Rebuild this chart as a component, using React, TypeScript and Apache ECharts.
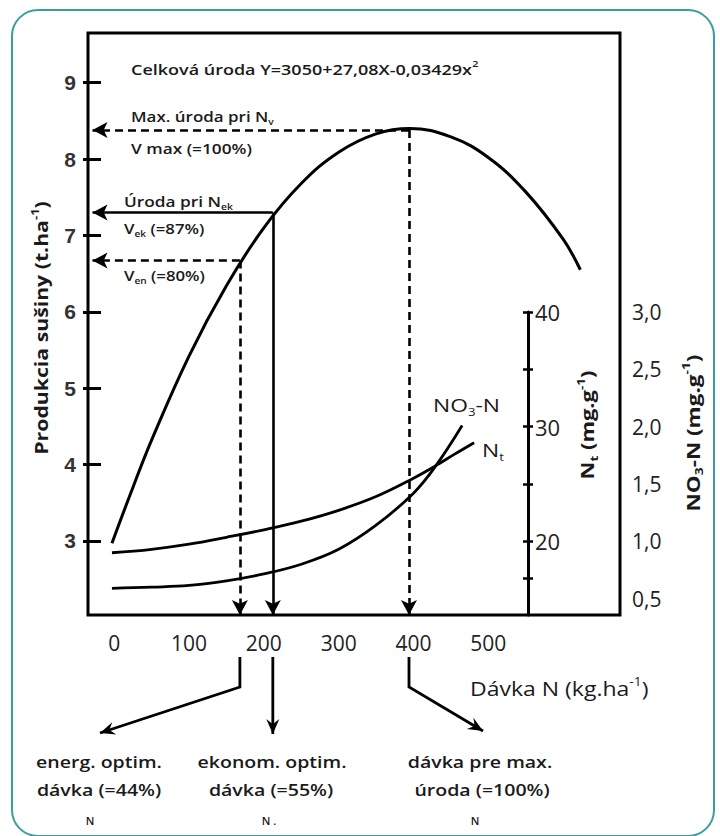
import React, { useEffect, useRef } from 'react';
import * as echarts from 'echarts';

// ---- Data ----
const doseTicks = [0, 100, 200, 300, 400, 500];
const yieldTicks = [3, 4, 5, 6, 7, 8, 9];
const ntTicks = [16.75, 20, 25, 30, 35, 40];
const ntLabels = [20, 30, 40];
const no3Labels = [0.5, 1.0, 1.5, 2.0, 2.5, 3.0];

// total yield (t/ha) vs N dose (kg/ha)
const yieldDose = [-3, 25, 50, 100, 150, 200, 250, 300, 350, 395, 450, 500, 550, 600, 623];
const yieldValues = [2.97, 3.7, 4.32, 5.42, 6.34, 7.1, 7.68, 8.09, 8.33, 8.4, 8.29, 8.02, 7.57, 6.95, 6.55];

// total N in dry matter (mg/g)
const ntDose = [-3, 50, 100, 150, 200, 250, 300, 350, 400, 430, 455, 481];
const ntValues = [19.0, 19.3, 19.75, 20.35, 21.0, 21.75, 22.7, 23.9, 25.5, 26.6, 27.6, 28.6];

// NO3-N (mg/g)
const no3Dose = [-3, 50, 100, 150, 200, 250, 300, 350, 400, 430, 465];
const no3Values = [0.59, 0.6, 0.615, 0.655, 0.715, 0.8, 0.93, 1.14, 1.42, 1.66, 2.01];

// optimum doses: energetic, economic, maximum yield
const optimumDoses = [168, 212, 394];
const optimumYields = [6.67, 7.3, 8.38];
const optimumDashed = [true, false, true];

// ---- Layout constants ----
const X_MIN = -35, X_MAX = 676;
const Y_MIN = 2.03, Y_MAX = 9.65;
const NT_MIN = 13.57, NT_MAX = 40;
const NO3_MIN = 0.357, NO3_MAX = 3.0;
const ARROW_X = -29;

const FONT = '"Open Sans", "Liberation Sans", sans-serif';
const NUMFONT = '"Liberation Sans", Arial, sans-serif';
const INK = '#1a1a1a';

function arrowHead(tip: number[], from: number[], len = 15, half = 6.5) {
  const dx = tip[0] - from[0], dy = tip[1] - from[1];
  const d = Math.hypot(dx, dy);
  const ux = dx / d, uy = dy / d;
  const px = -uy, py = ux;
  const bx = tip[0] - ux * len, by = tip[1] - uy * len;
  const nx = tip[0] - ux * len * 0.65, ny = tip[1] - uy * len * 0.65;
  return [
    [tip[0], tip[1]],
    [bx + px * half, by + py * half],
    [nx, ny],
    [bx - px * half, by - py * half],
  ];
}

function richSet(size: number, weight: any = 600) {
  return {
    a: { fontSize: size, fontFamily: FONT, fontWeight: weight, fill: INK, color: INK, lineHeight: size + 6 },
    sub: { fontSize: Math.round(size * 0.6), fontFamily: FONT, fontWeight: weight, fill: INK, color: INK, verticalAlign: 'bottom', lineHeight: size + 6 },
    sup: { fontSize: Math.round(size * 0.6), fontFamily: FONT, fontWeight: weight, fill: INK, color: INK, verticalAlign: 'top', lineHeight: size + 6 },
  };
}

function txt(x: number, y: number, text: string, size: number, opts: any = {}) {
  const weight = opts.weight ?? 600;
  return {
    type: 'text',
    x,
    y,
    z: 20,
    silent: true,
    rotation: opts.rotation || 0,
    scaleX: opts.scaleX || 1,
    style: {
      text,
      fontSize: size,
      fontFamily: FONT,
      fontWeight: weight,
      fill: INK,
      align: opts.align || 'left',
      verticalAlign: 'middle',
      rich: richSet(size, weight),
    },
  };
}

export default function App() {
  const ref = useRef<HTMLDivElement>(null);

  useEffect(() => {
    const chart = echarts.init(ref.current!, undefined, { renderer: 'svg' });

    const markData: any[] = [];
    optimumDoses.forEach((d, i) => {
      const ls = { type: optimumDashed[i] ? [8, 5] : 'solid', width: 2.6, color: '#000' };
      markData.push([{ coord: [d, optimumYields[i]], lineStyle: ls }, { coord: [d, Y_MIN] }]);
      markData.push([{ coord: [d, optimumYields[i]], lineStyle: ls }, { coord: [ARROW_X, optimumYields[i]] }]);
    });

    const option: any = {
      animation: false,
      backgroundColor: '#fff',
      grid: [
        { left: 88, top: 33, width: 532, height: 582, show: true, borderColor: '#000', borderWidth: 3, backgroundColor: 'transparent' },
        { left: 88, top: 312, width: 532, height: 303, show: false },
      ],
      xAxis: [
        {
          gridIndex: 0, type: 'value', min: X_MIN, max: X_MAX,
          axisLine: { show: false, onZero: false }, axisTick: { show: false }, splitLine: { show: false },
          axisLabel: { customValues: doseTicks, fontSize: 21, color: '#222', margin: 17, fontFamily: FONT },
        },
        { gridIndex: 1, type: 'value', min: X_MIN, max: X_MAX, show: false, axisLine: { onZero: false } },
      ],
      yAxis: [
        {
          gridIndex: 0, type: 'value', position: 'left', min: Y_MIN, max: Y_MAX,
          axisLine: { show: false, onZero: false },
          axisTick: { show: true, inside: true, length: 13, customValues: yieldTicks, lineStyle: { width: 3, color: '#000' } },
          axisLabel: { customValues: yieldTicks, fontSize: 21, fontWeight: 'bold', color: '#333', margin: 12, fontFamily: NUMFONT },
          splitLine: { show: false },
        },
        {
          gridIndex: 0, type: 'value', position: 'left', min: Y_MIN, max: Y_MAX,
          axisLine: { show: false, onZero: false },
          axisTick: { show: true, inside: false, length: 5, customValues: yieldTicks, lineStyle: { width: 3, color: '#000' } },
          axisLabel: { show: false }, splitLine: { show: false },
        },
        {
          gridIndex: 1, type: 'value', position: 'right', offset: -92, min: NT_MIN, max: NT_MAX,
          axisLine: { show: true, onZero: false, lineStyle: { width: 3, color: '#000' } },
          axisTick: { show: true, inside: false, length: 5, customValues: ntTicks, lineStyle: { width: 2.5, color: '#000' } },
          axisLabel: { customValues: ntLabels, fontSize: 22, color: '#222', margin: 7, fontFamily: FONT },
          splitLine: { show: false },
        },
        {
          gridIndex: 1, type: 'value', position: 'right', offset: -92, min: NT_MIN, max: NT_MAX,
          axisLine: { show: false, onZero: false },
          axisTick: { show: true, inside: true, length: 5, customValues: ntTicks, lineStyle: { width: 2.5, color: '#000' } },
          axisLabel: { show: false }, splitLine: { show: false },
        },
        {
          gridIndex: 1, type: 'value', position: 'right', offset: 0, min: NO3_MIN, max: NO3_MAX,
          axisLine: { show: false, onZero: false }, axisTick: { show: false }, splitLine: { show: false },
          axisLabel: {
            customValues: no3Labels, fontSize: 21, color: '#222', margin: 12, fontFamily: FONT,
            formatter: (v: number) => v.toFixed(1).replace('.', ','),
          },
        },
      ],
      series: [
        {
          name: 'Celková úroda', type: 'line', xAxisIndex: 0, yAxisIndex: 0,
          data: yieldDose.map((d, i) => [d, yieldValues[i]]),
          symbol: 'none', smooth: 0.4, clip: false,
          lineStyle: { color: '#000', width: 3 },
          markLine: {
            silent: true, symbol: ['none', 'arrow'], symbolSize: [12, 15],
            label: { show: false },
            lineStyle: { color: '#000', width: 2.6 },
            data: markData,
          },
        },
        {
          name: 'Nt', type: 'line', xAxisIndex: 1, yAxisIndex: 2,
          data: ntDose.map((d, i) => [d, ntValues[i]]),
          symbol: 'none', smooth: 0.4, clip: false,
          lineStyle: { color: '#000', width: 2.8 },
        },
        {
          name: 'NO3-N', type: 'line', xAxisIndex: 1, yAxisIndex: 4,
          data: no3Dose.map((d, i) => [d, no3Values[i]]),
          symbol: 'none', smooth: 0.4, clip: false,
          lineStyle: { color: '#000', width: 2.8 },
        },
      ],
    };

    chart.setOption(option);

    const px = optimumDoses.map((d) => chart.convertToPixel({ xAxisIndex: 0 }, d) as number);
    const top = 657;
    const bend = 687;
    const leftTip = [100, 733];
    const midTip = [px[1], 734];
    const rightTip = [483, 731];

    const lineStyle = { stroke: '#000', lineWidth: 2.8, fill: 'none' };
    const graphics: any[] = [
      {
        type: 'rect', z: 0, silent: true,
        shape: { x: 12, y: 10, width: 702, height: 826, r: 26 },
        style: { fill: 'none', stroke: '#3a9e9b', lineWidth: 2 },
      },
      // bottom arrows
      { type: 'polyline', z: 10, shape: { points: [[px[0], top], [px[0], bend], leftTip] }, style: lineStyle },
      { type: 'polygon', z: 10, shape: { points: arrowHead(leftTip, [px[0], bend]) }, style: { fill: '#000' } },
      { type: 'polyline', z: 10, shape: { points: [[px[1], top], midTip] }, style: lineStyle },
      { type: 'polygon', z: 10, shape: { points: arrowHead(midTip, [px[1], top]) }, style: { fill: '#000' } },
      { type: 'polyline', z: 10, shape: { points: [[px[2], top], [px[2], bend], rightTip] }, style: lineStyle },
      { type: 'polygon', z: 10, shape: { points: arrowHead(rightTip, [px[2], bend]) }, style: { fill: '#000' } },

      // y axis title
      txt(41, 328, '{a|Produkcia sušiny (t.ha}{sup|-1}{a|)}', 18, { rotation: Math.PI / 2, align: 'center', scaleX: 1.18, weight: 'bold' }),

      // annotations in plot
      txt(131, 69, '{a|Celková úroda Y=3050+27,08X-0,03429x}{sup|2}', 15, { scaleX: 1.2 }),
      txt(131, 116, '{a|Max. úroda pri N}{sub|v}', 15, { scaleX: 1.13 }),
      txt(131, 148, 'V max (=100%)', 15, { scaleX: 1.15 }),
      txt(124, 201, '{a|Úroda pri N}{sub|ek}', 15, { scaleX: 1.15 }),
      txt(124, 228, '{a|V}{sub|ek}{a| (=87%)}', 15, { scaleX: 1.12 }),
      txt(124, 275, '{a|V}{sub|en}{a| (=80%)}', 15, { scaleX: 1.12 }),

      // curve labels
      txt(433, 405, '{a|NO}{sub|3}{a|-N}', 19, { scaleX: 1.2, weight: 'normal' }),
      txt(482, 450, '{a|N}{sub|t}', 19, { scaleX: 1.2, weight: 'normal' }),

      // right axis titles
      txt(587, 425, '{a|N}{sub|t}{a| (mg.g}{sup|-1}{a|)}', 18, { rotation: Math.PI / 2, align: 'center', scaleX: 1.22, weight: 'bold' }),
      txt(693, 433, '{a|NO}{sub|3}{a|-N (mg.g}{sup|-1}{a|)}', 18, { rotation: Math.PI / 2, align: 'center', scaleX: 1.25, weight: 'bold' }),

      // x axis title
      txt(470, 688, '{a|Dávka N (kg.ha}{sup|-1}{a|)}', 20, { scaleX: 1.15, weight: 'normal' }),

      // bottom labels
      txt(99, 761, 'energ. optim.', 17, { align: 'center', scaleX: 1.15 }),
      txt(99, 789, 'dávka (=44%)', 17, { align: 'center', scaleX: 1.15 }),
      txt(90, 820, 'N', 11, { align: 'center' }),
      txt(272, 761, 'ekonom. optim.', 17, { align: 'center', scaleX: 1.15 }),
      txt(271, 789, 'dávka (=55%)', 17, { align: 'center', scaleX: 1.15 }),
      txt(269, 820, 'N .', 11, { align: 'center' }),
      txt(480, 761, 'dávka pre max.', 17, { align: 'center', scaleX: 1.15 }),
      txt(482, 789, 'úroda (=100%)', 17, { align: 'center', scaleX: 1.15 }),
      txt(475, 820, 'N', 11, { align: 'center' }),
    ];

    chart.setOption({ graphic: graphics });

    return () => chart.dispose();
  }, []);

  return (
    <div
      ref={ref}
      style={{ position: 'fixed', left: 0, top: 0, width: 720, height: 836, background: '#fff' }}
    />
  );
}
